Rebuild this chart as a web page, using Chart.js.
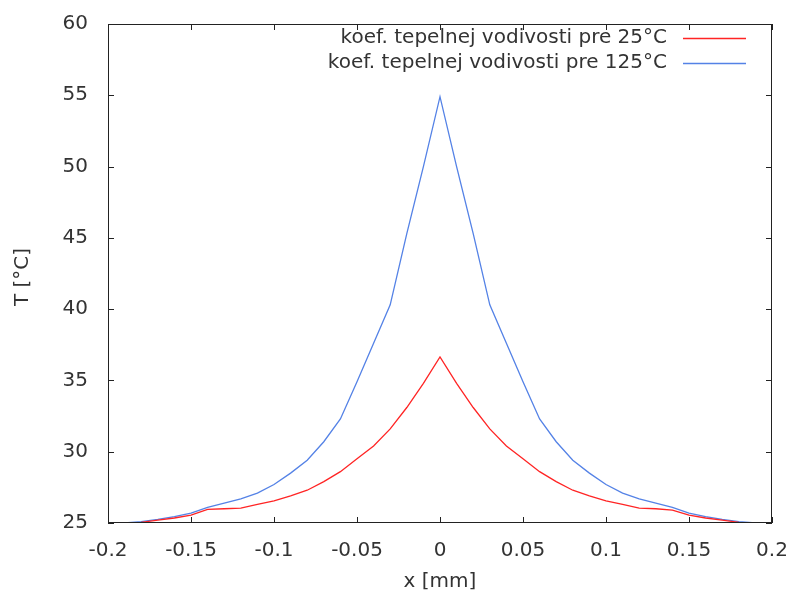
<!DOCTYPE html>
<html>
<head>
<meta charset="utf-8">
<script src="https://cdn.jsdelivr.net/npm/chart.js@4.4.1/dist/chart.umd.min.js"></script>
<style>
  html, body { margin: 0; padding: 0; background: #fff; }
  #wrap { width: 787px; height: 593px; }
</style>
</head>
<body>
<div id="wrap"><canvas id="chart" width="787" height="593"></canvas></div>
<script>
const xs = [-0.19, -0.18, -0.17, -0.16, -0.15, -0.14, -0.13, -0.12, -0.11, -0.10, -0.09, -0.08, -0.07, -0.06, -0.05, -0.04, -0.03, -0.02, -0.01, 0,
  0.01, 0.02, 0.03, 0.04, 0.05, 0.06, 0.07, 0.08, 0.09, 0.10, 0.11, 0.12, 0.13, 0.14, 0.15, 0.16, 0.17, 0.18, 0.19];
const tRed = [25.0, 25.05, 25.2, 25.35, 25.55, 25.95, 26.0, 26.05, 26.3, 26.55, 26.9, 27.3, 27.9, 28.6, 29.5, 30.4, 31.6, 33.1, 34.8, 36.65,
  34.8, 33.1, 31.6, 30.4, 29.5, 28.6, 27.9, 27.3, 26.9, 26.55, 26.3, 26.05, 26.0, 25.9, 25.55, 25.35, 25.2, 25.05, 25.0];
const tBlue = [25.0, 25.1, 25.25, 25.45, 25.7, 26.1, 26.4, 26.7, 27.1, 27.7, 28.5, 29.4, 30.7, 32.3, 34.9, 37.6, 40.3, 45.3, 50.0, 54.9,
  50.0, 45.3, 40.3, 37.6, 34.9, 32.3, 30.7, 29.4, 28.5, 27.7, 27.1, 26.7, 26.4, 26.1, 25.7, 25.45, 25.25, 25.1, 25.0];
const xTicks = [-0.2, -0.15, -0.1, -0.05, 0, 0.05, 0.1, 0.15, 0.2];
const yTicks = [25, 30, 35, 40, 45, 50, 55, 60];
const seriesLabels = ['koef. tepelnej vodivosti pre 25°C', 'koef. tepelnej vodivosti pre 125°C'];
const seriesColors = ['#ff2424', '#5482e6'];

const FONT = '"DejaVu Sans", sans-serif';
const TEXT = '#333';

const frame = {
  id: 'frame',
  afterDraw(chart) {
    const { ctx, chartArea: a, scales } = chart;
    ctx.save();
    ctx.strokeStyle = '#222';
    ctx.lineWidth = 1;
    ctx.strokeRect(a.left + 0.5, a.top + 0.5, a.right - a.left - 1, a.bottom - a.top - 1);
    const tl = 6;
    ctx.beginPath();
    xTicks.forEach((v) => {
      const px = Math.round(scales.x.getPixelForValue(v)) + 0.5;
      ctx.moveTo(px, a.bottom); ctx.lineTo(px, a.bottom - tl);
      ctx.moveTo(px, a.top); ctx.lineTo(px, a.top + tl);
    });
    yTicks.forEach((v) => {
      const py = Math.round(scales.y.getPixelForValue(v)) + 0.5;
      ctx.moveTo(a.left, py); ctx.lineTo(a.left + tl, py);
      ctx.moveTo(a.right, py); ctx.lineTo(a.right - tl, py);
    });
    ctx.stroke();

    // axis titles
    ctx.fillStyle = TEXT;
    ctx.font = '20px ' + FONT;
    ctx.textBaseline = 'middle';
    ctx.textAlign = 'center';
    ctx.fillText('x [mm]', (a.left + a.right) / 2, 582);
    ctx.save();
    ctx.translate(23, 277);
    ctx.rotate(-Math.PI / 2);
    ctx.fillText('T [°C]', 0, 0);
    ctx.restore();

    // legend
    chart.data.datasets.forEach((ds, i) => {
      const y = 38 + i * 25;
      ctx.textAlign = 'right';
      ctx.fillStyle = TEXT;
      ctx.fillText(ds.label, 667, y);
      ctx.strokeStyle = ds.borderColor;
      ctx.lineWidth = 1.3;
      ctx.beginPath();
      ctx.moveTo(683, y + 0.5); ctx.lineTo(746, y + 0.5);
      ctx.stroke();
    });
    ctx.restore();
  }
};

new Chart(document.getElementById('chart'), {
  type: 'line',
  data: {
    datasets: [tRed, tBlue].map((arr, i) => ({
      label: seriesLabels[i],
      data: xs.map((x, j) => ({ x, y: arr[j] })),
      borderColor: seriesColors[i],
      borderWidth: 1.3,
      pointRadius: 0,
      tension: 0,
      fill: false
    }))
  },
  options: {
    responsive: false,
    animation: false,
    layout: { padding: { top: 24, right: 15, left: 0, bottom: 0 } },
    plugins: { legend: { display: false }, tooltip: { enabled: false } },
    scales: {
      x: {
        type: 'linear', min: -0.2, max: 0.2,
        grid: { display: false }, border: { display: false },
        afterBuildTicks: (s) => { s.ticks = xTicks.map((v) => ({ value: v })); },
        afterFit: (s) => { s.height = 70; s.paddingLeft = 0; s.paddingRight = 0; },
        ticks: { padding: 8, color: TEXT, font: { family: FONT, size: 20 }, maxRotation: 0, autoSkip: false,
          callback: (v) => String(+v.toFixed(2)) }
      },
      y: {
        type: 'linear', min: 25, max: 60,
        grid: { display: false }, border: { display: false },
        afterBuildTicks: (s) => { s.ticks = yTicks.map((v) => ({ value: v })); },
        afterFit: (s) => { s.width = 108; s.paddingTop = 0; s.paddingBottom = 0; },
        ticks: { padding: 12, color: TEXT, font: { family: FONT, size: 20 }, autoSkip: false }
      }
    }
  },
  plugins: [frame]
});
</script>
</body>
</html>
